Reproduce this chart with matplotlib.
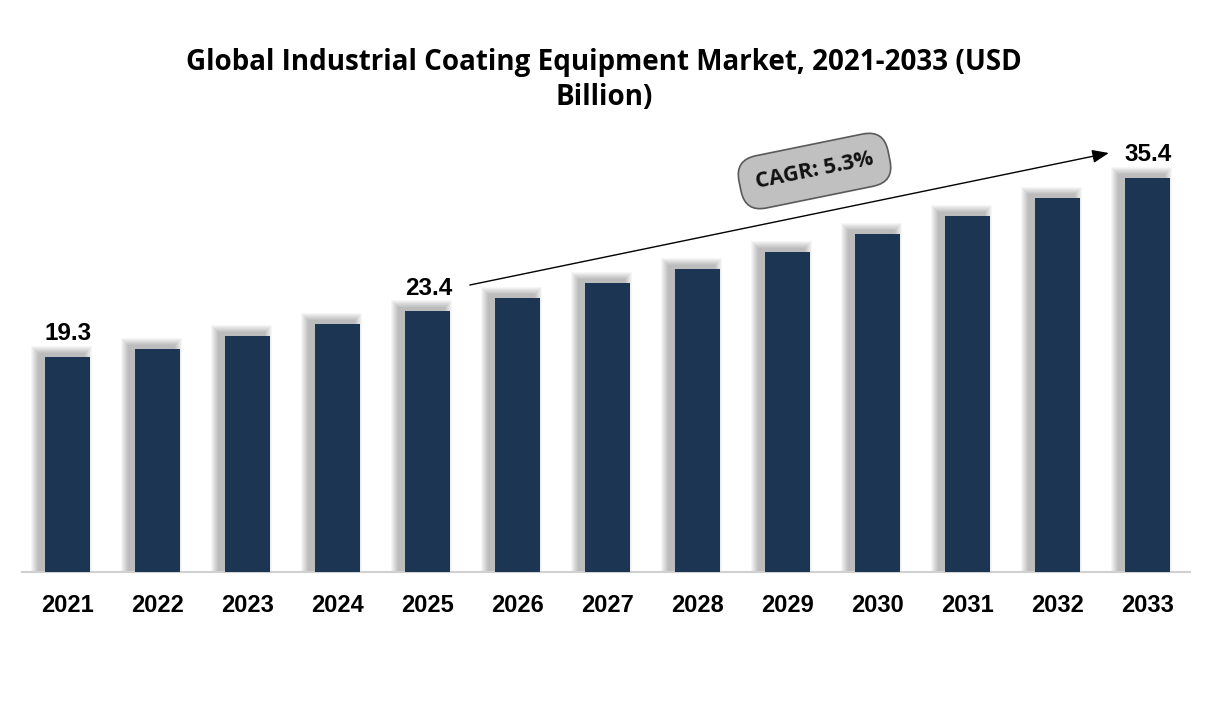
import numpy as np
import matplotlib.pyplot as plt

years = ["2021", "2022", "2023", "2024", "2025", "2026", "2027",
         "2028", "2029", "2030", "2031", "2032", "2033"]
values = [19.3, 20.0, 21.2, 22.3, 23.4, 24.6, 25.9, 27.2, 28.7, 30.3, 32.0, 33.6, 35.4]
shown_labels = {0: "19.3", 4: "23.4", 12: "35.4"}
cagr_text = "CAGR: 5.3%"
title = "Global Industrial Coating Equipment Market, 2021-2033 (USD\nBillion)"

bar_color = "#1b3552"
W, H = 1208, 721

fig = plt.figure(figsize=(W / 100, H / 100), dpi=100)
# axes placed in pixel terms: x 22..1190, baseline at y=572, top at y=130
ax = fig.add_axes([22 / W, 1 - 572 / H, (1190 - 22) / W, (572 - 130) / H])
ax.set_xlim(-0.506, 12.472)
ymax = (572 - 130) / 11.14
ax.set_ylim(0, ymax)

x = np.arange(len(years))
px_x = 1 / 90.0      # data units per pixel in x
px_y = 1 / 11.14     # data units per pixel in y

# soft shadow behind bars, pushed up and to the left
for r in range(1, 9):
    grow = 9 - r
    ax.bar(x - 6 * px_x, np.array(values) + (3 + grow) * px_y,
           width=0.5 + 2 * grow * px_x, color="black", alpha=0.035,
           linewidth=0, zorder=1)

ax.bar(x, values, width=0.5, color=bar_color, linewidth=0, zorder=3)

for i, lab in shown_labels.items():
    ax.text(x[i] + 0.01, values[i] + 1.05, lab, ha="center", va="bottom",
            fontsize=17.5, fontweight="bold", family="Liberation Sans", zorder=5)

for s in ["top", "right", "left"]:
    ax.spines[s].set_visible(False)
ax.spines["bottom"].set_color("#d0d0d0")
ax.spines["bottom"].set_linewidth(1.5)
ax.set_yticks([])
ax.set_xticks(x)
ax.set_xticklabels(years, fontsize=17, fontweight="bold", family="Liberation Sans")
ax.tick_params(axis="x", length=0, pad=16)

# CAGR arrow from 2025 label to 2033 label
ax.annotate("", xy=(11.57, (572 - 153) / 11.14), xytext=(4.47, (572 - 285) / 11.14),
            arrowprops=dict(arrowstyle="-|>,head_length=1.0,head_width=0.4",
                        color="black", lw=1, shrinkA=0, shrinkB=0), zorder=6)

ax.text(8.3, (572 - 171) / 11.14, cagr_text, ha="center", va="center",
        rotation=11.5, fontsize=15.5, fontweight="bold", family="Open Sans",
        color="#111111", zorder=7,
        bbox=dict(boxstyle="round,pad=0.75,rounding_size=1.0", facecolor="#c0c0c0",
                  edgecolor="#5a5a5a", linewidth=1.2))

fig.text(0.5, 1 - 80 / H, title, ha="center", va="center", fontsize=20,
         fontweight="bold", family="Open Sans", linespacing=1.3)

fig.savefig("out.png", dpi=100)
